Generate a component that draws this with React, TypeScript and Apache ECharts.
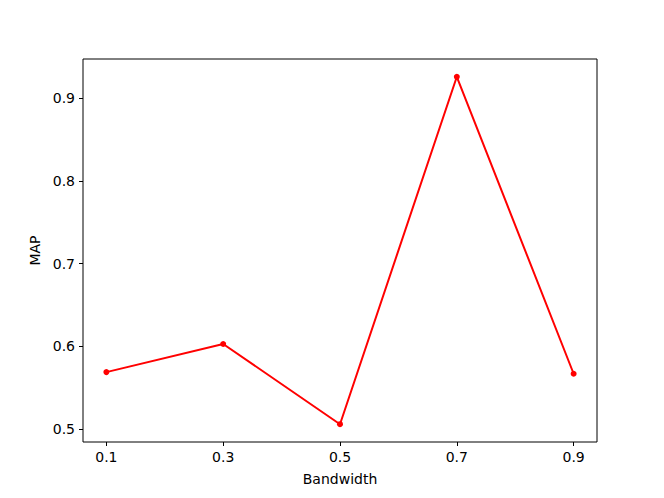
import React, { useEffect, useRef } from "react";
import * as echarts from "echarts";

const bandwidths = [0.1, 0.3, 0.5, 0.7, 0.9];
const mapValues = [0.569, 0.603, 0.506, 0.926, 0.567];
const xTicks = [0.1, 0.3, 0.5, 0.7, 0.9];
const yTicks = [0.5, 0.6, 0.7, 0.8, 0.9];

const FONT = "DejaVu Sans";

export default function App() {
  const ref = useRef<HTMLDivElement>(null);
  useEffect(() => {
    if (!ref.current) return;
    const chart = echarts.init(ref.current, undefined, { renderer: "svg" });
    chart.setOption({
      animation: false,
      backgroundColor: "#ffffff",
      grid: {
        left: 83,
        right: 67,
        top: 59,
        bottom: 56,
        show: true,
        borderColor: "#000000",
        borderWidth: 1,
        backgroundColor: "transparent",
      },
      xAxis: {
        type: "value",
        min: 0.06,
        max: 0.94,
        name: "Bandwidth",
        nameLocation: "middle",
        nameGap: 30,
        nameTextStyle: { fontFamily: FONT, fontSize: 14, color: "#000" },
        axisLine: { show: false },
        splitLine: { show: false },
        axisTick: {
          show: true,
          customValues: xTicks,
          length: 4,
          lineStyle: { color: "#000", width: 1 },
        },
        axisLabel: {
          customValues: xTicks,
          formatter: (v: number) => v.toFixed(1),
          fontFamily: FONT,
          fontSize: 14,
          color: "#000",
          margin: 8,
        },
      },
      yAxis: {
        type: "value",
        min: 0.4845,
        max: 0.9475,
        name: "MAP",
        nameLocation: "middle",
        nameGap: 40,
        nameTextStyle: { fontFamily: FONT, fontSize: 14, color: "#000" },
        axisLine: { show: false },
        splitLine: { show: false },
        axisTick: {
          show: true,
          customValues: yTicks,
          length: 4,
          lineStyle: { color: "#000", width: 1 },
        },
        axisLabel: {
          customValues: yTicks,
          formatter: (v: number) => v.toFixed(1),
          fontFamily: FONT,
          fontSize: 14,
          color: "#000",
          margin: 8,
        },
      },
      series: [
        {
          type: "line",
          data: bandwidths.map((b, i) => [b, mapValues[i]]),
          symbol: "circle",
          symbolSize: 6,
          lineStyle: { color: "#ff0000", width: 2 },
          itemStyle: { color: "#ff0000" },
        },
      ],
    });
    return () => chart.dispose();
  }, []);
  return <div ref={ref} style={{ width: 664, height: 498, position: "absolute", left: 0, top: 0 }} />;
}
